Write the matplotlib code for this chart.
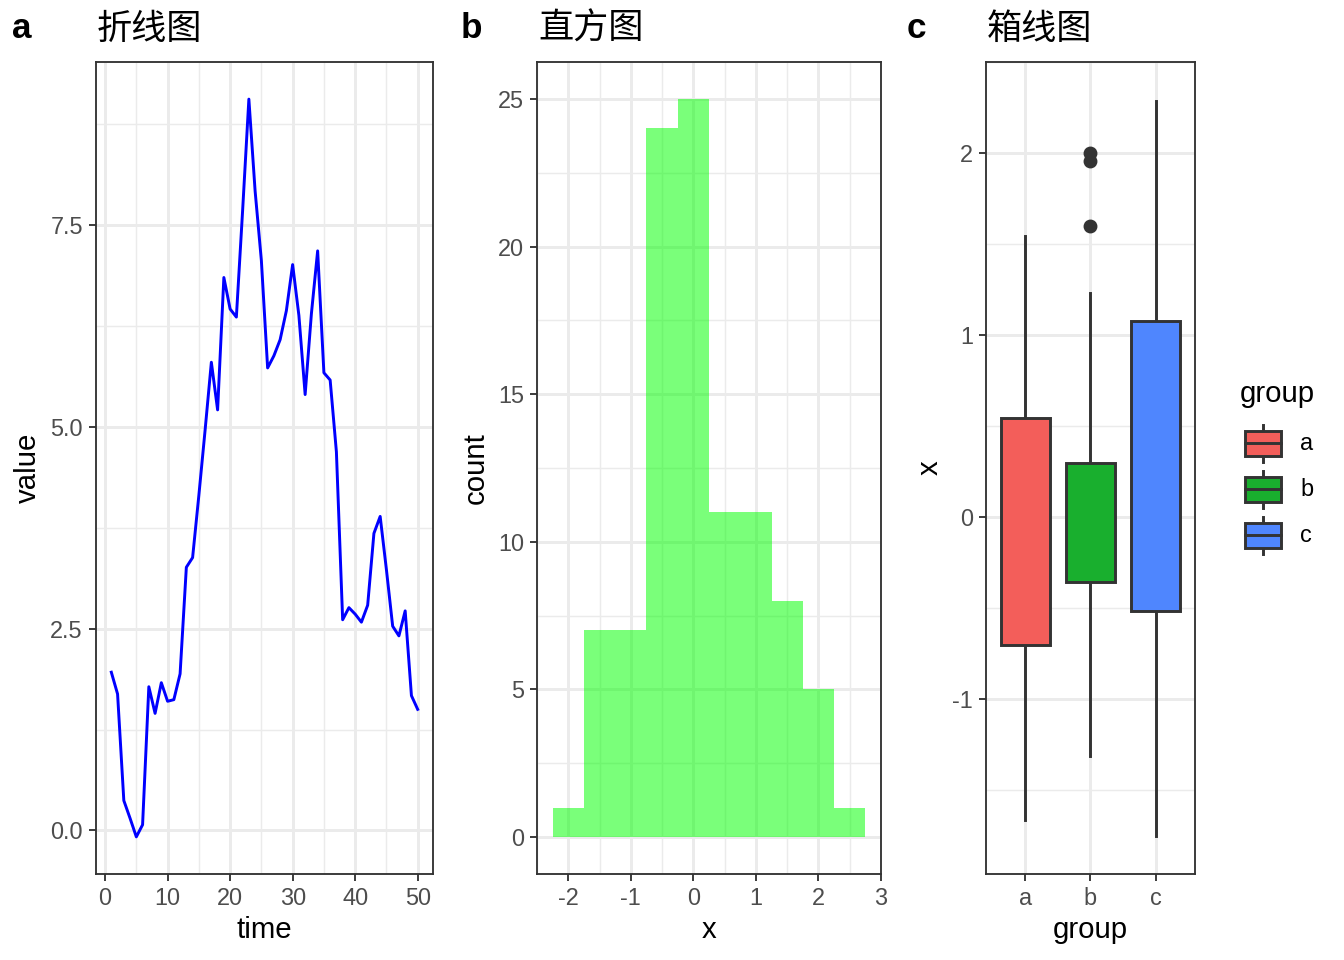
import matplotlib
matplotlib.use("Agg")
import matplotlib.pyplot as plt
from matplotlib.patches import Rectangle
from matplotlib.ticker import MultipleLocator

plt.rcParams['font.family'] = ['Liberation Sans', 'Noto Sans CJK SC', 'DejaVu Sans']
plt.rcParams['axes.unicode_minus'] = False

# ---- data ----
time = list(range(1, 51))
value = [1.96, 1.69, 0.37, 0.15, -0.08, 0.07, 1.78, 1.45, 1.83, 1.60,
         1.62, 1.94, 3.26, 3.38, 4.15, 4.96, 5.80, 5.21, 6.85, 6.46,
         6.36, 7.68, 9.06, 7.92, 7.06, 5.73, 5.88, 6.08, 6.44, 7.01,
         6.38, 5.40, 6.40, 7.18, 5.67, 5.58, 4.69, 2.61, 2.76, 2.68,
         2.58, 2.79, 3.68, 3.89, 3.23, 2.53, 2.41, 2.72, 1.67, 1.50]

bin_centers = [-2.0, -1.5, -1.0, -0.5, 0.0, 0.5, 1.0, 1.5, 2.0, 2.5]
bin_counts = [1, 7, 7, 24, 25, 11, 11, 8, 5, 1]
bin_width = 0.5

groups = ['a', 'b', 'c']
box_whislo = [-1.662, -1.313, -1.750]
box_q1 = [-0.702, -0.357, -0.513]
box_med = [-0.177, 0.047, 0.123]
box_q3 = [0.543, 0.298, 1.078]
box_whishi = [1.545, 1.231, 2.288]
box_fliers = [[], [2.00, 1.955, 1.598], []]
group_colors = ['#F35E5A', '#19AF2E', '#4F86FE']

# ---- theme helpers ----
GRID = '#EBEBEB'
DARK = '#333333'
TICKTXT = '#4D4D4D'


def style_axes(ax):
    ax.set_facecolor('white')
    ax.grid(which='major', color=GRID, linewidth=1.1, zorder=0)
    ax.grid(which='minor', color=GRID, linewidth=0.55, zorder=0)
    ax.set_axisbelow(True)
    for s in ax.spines.values():
        s.set_color(DARK)
        s.set_linewidth(0.7)
    ax.tick_params(which='major', length=2.75, width=0.7, color=DARK,
                   labelsize=8.8, labelcolor=TICKTXT, pad=2.2)
    ax.tick_params(which='minor', length=0)


fig = plt.figure(figsize=(7, 5), dpi=192)
W, H = 1344, 960


def add_ax(l, r, t=62, b=874):
    return fig.add_axes([l / W, 1 - b / H, (r - l) / W, (b - t) / H])


# ---- a: line ----
ax1 = add_ax(96, 433)
style_axes(ax1)
ax1.plot(time, value, color='#0000FF', linewidth=1.1, zorder=3)
ax1.set_xlim(-1.45, 52.45)
ax1.set_ylim(-0.54, 9.52)
ax1.xaxis.set_major_locator(MultipleLocator(10))
ax1.xaxis.set_minor_locator(MultipleLocator(5))
ax1.yaxis.set_major_locator(MultipleLocator(2.5))
ax1.yaxis.set_minor_locator(MultipleLocator(1.25))
ax1.yaxis.set_major_formatter(matplotlib.ticker.FormatStrFormatter('%.1f'))
ax1.set_xlabel('time', fontsize=11, labelpad=2)
ax1.set_ylabel('value', fontsize=11, labelpad=3)

# ---- b: histogram ----
ax2 = add_ax(537, 881)
style_axes(ax2)
ax2.bar(bin_centers, bin_counts, width=bin_width, color='#00FF00', alpha=0.52,
        linewidth=0, zorder=3)
ax2.set_xlim(-2.5, 3.0)
ax2.set_ylim(-1.25, 26.25)
ax2.xaxis.set_major_locator(MultipleLocator(1))
ax2.xaxis.set_minor_locator(MultipleLocator(0.5))
ax2.yaxis.set_major_locator(MultipleLocator(5))
ax2.yaxis.set_minor_locator(MultipleLocator(2.5))
ax2.set_xlabel('x', fontsize=11, labelpad=2)
ax2.set_ylabel('count', fontsize=11, labelpad=3)

# ---- c: boxplot ----
ax3 = add_ax(986, 1195)
style_axes(ax3)
stats = []
for i, g in enumerate(groups):
    stats.append(dict(label=g, whislo=box_whislo[i], q1=box_q1[i], med=box_med[i],
                      q3=box_q3[i], whishi=box_whishi[i], fliers=box_fliers[i]))
bp = ax3.bxp(stats, positions=[1, 2, 3], widths=0.75, patch_artist=True,
             showcaps=False,
             boxprops=dict(edgecolor=DARK, linewidth=1.1),
             whiskerprops=dict(color=DARK, linewidth=1.1),
             medianprops=dict(color=DARK, linewidth=2.2),
             flierprops=dict(marker='o', markerfacecolor=DARK, markeredgecolor=DARK,
                             markersize=4.2))
for patch, c in zip(bp['boxes'], group_colors):
    patch.set_facecolor(c)
    patch.set_zorder(3)
ax3.set_xlim(0.4, 3.6)
ax3.set_ylim(-1.96, 2.50)
ax3.set_xticks([1, 2, 3])
ax3.set_xticklabels(groups)
ax3.yaxis.set_major_locator(MultipleLocator(1))
ax3.yaxis.set_minor_locator(MultipleLocator(0.5))
ax3.xaxis.set_minor_locator(matplotlib.ticker.NullLocator())
ax3.set_xlabel('group', fontsize=11, labelpad=2)
ax3.set_ylabel('x', fontsize=11, labelpad=3)

# ---- tags and titles ----
for tag, tx, title, tt in [('a', 22, '折线图', 97), ('b', 471, '直方图', 538),
                           ('c', 916, '箱线图', 987)]:
    fig.text(tx / W, 1 - 29 / H, tag, fontsize=13.2, fontweight='bold',
             ha='center', va='center')
    fig.text(tt / W, 1 - 29 / H, title, fontsize=13.2, ha='left', va='center')

# ---- legend ----
lax = fig.add_axes([0, 0, 1, 1])
lax.set_xlim(0, W)
lax.set_ylim(H, 0)
lax.axis('off')
lax.text(1240, 394, 'group', fontsize=11, ha='left', va='center')
for i, g in enumerate(groups):
    cy = 443 + 46 * i
    lax.plot([1263, 1263], [cy - 18.5, cy + 18.5], color=DARK, linewidth=1.1)
    lax.add_patch(Rectangle((1245, cy - 12.5), 36, 25, facecolor=group_colors[i],
                            edgecolor=DARK, linewidth=1.1, zorder=3))
    lax.plot([1245, 1281], [cy, cy], color=DARK, linewidth=1.1, zorder=4)
    lax.text(1300, cy, g, fontsize=8.8, ha='left', va='center')

fig.savefig('out.png', dpi=192, facecolor='white')
